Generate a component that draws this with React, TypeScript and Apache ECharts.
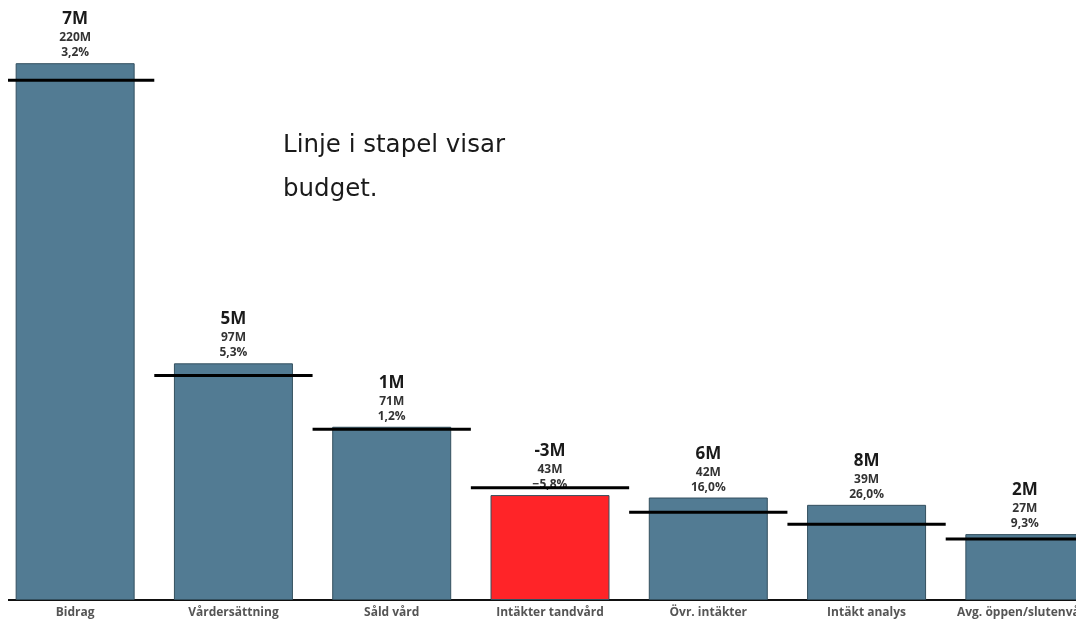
import React, { useEffect, useRef } from "react";
import * as echarts from "echarts";

const categories = [
  "Bidrag",
  "Vårdersättning",
  "Såld vård",
  "Intäkter tandvård",
  "Övr. intäkter",
  "Intäkt analys",
  "Avg. öppen/slutenvård",
];
const actualValues = [220, 97, 71, 43, 42, 39, 27];
const budgetValues = [213, 92, 70, 46, 36, 31, 25];
const diffLabels = ["7M", "5M", "1M", "-3M", "6M", "8M", "2M"];
const valueLabels = ["220M", "97M", "71M", "43M", "42M", "39M", "27M"];
const pctLabels = ["3,2%", "5,3%", "1,2%", "\u22125,8%", "16,0%", "26,0%", "9,3%"];
const noteText = "Linje i stapel visar\nbudget.";

const BLUE = "#527b93";
const RED = "#ff2428";

export default function App() {
  const ref = useRef<HTMLDivElement>(null);
  useEffect(() => {
    if (!ref.current) return;
    const chart = echarts.init(ref.current, null, { renderer: "svg" });
    const font = "'Open Sans', 'Noto Sans', sans-serif";
    chart.setOption({
      animation: false,
      grid: { left: 0, width: 1108, top: 14.4, bottom: 19, containLabel: false },
      xAxis: {
        type: "category",
        data: categories,
        axisLine: { show: true, lineStyle: { color: "#111", width: 2 } },
        axisTick: { show: false },
        axisLabel: {
          color: "#555",
          fontWeight: "bold",
          fontSize: 12,
          fontFamily: font,
          margin: 5,
          interval: 0,
        },
      },
      yAxis: {
        type: "value",
        min: 0,
        max: 240,
        show: false,
        splitLine: { show: false },
      },
      graphic: [
        {
          type: "text",
          left: 287,
          top: 121,
          style: {
            text: noteText,
            fontSize: 24.5,
            lineHeight: 44,
            fill: "#1a1a1a",
            fontFamily: "'DejaVu Sans', sans-serif",
          },
        },
      ],
      series: [
        {
          type: "bar",
          barWidth: 119,
          data: actualValues.map((v, i) => ({
            value: v,
            itemStyle: {
              color: actualValues[i] < budgetValues[i] ? RED : BLUE,
              borderColor: "#34505f",
              borderWidth: 1,
            },
          })),
          label: {
            show: true,
            position: "top",
            distance: 4,
            fontFamily: font,
            formatter: (p: any) =>
              `{a|${diffLabels[p.dataIndex]}}\n{b|${valueLabels[p.dataIndex]}}\n{b|${pctLabels[p.dataIndex]}}`,
            rich: {
              a: { fontSize: 17, fontWeight: "bold", color: "#1a1a1a", lineHeight: 23, fontFamily: font },
              b: { fontSize: 12, fontWeight: "bold", color: "#333", lineHeight: 15, fontFamily: font },
            },
          },
          z: 2,
        },
        {
          type: "custom",
          z: 5,
          data: budgetValues.map((b, i) => [i, b]),
          encode: { x: 0, y: 1 },
          renderItem: (params: any, api: any) => {
            const idx = api.value(0);
            const v = api.value(1);
            const p = api.coord([idx, v]);
            const w = api.size([1, 0])[0];
            return {
              type: "line",
              shape: { x1: p[0] - w / 2, y1: p[1], x2: p[0] + w / 2, y2: p[1] },
              style: { stroke: "#000", lineWidth: 3 },
            };
          },
        },
      ],
    });
    return () => chart.dispose();
  }, []);
  return (
    <div
      style={{
        position: "fixed",
        top: 0,
        left: 8,
        width: 1068,
        height: 619,
        overflow: "hidden",
      }}
    >
      <div ref={ref} style={{ marginLeft: -11.6, width: 1140, height: 619 }} />
    </div>
  );
}
